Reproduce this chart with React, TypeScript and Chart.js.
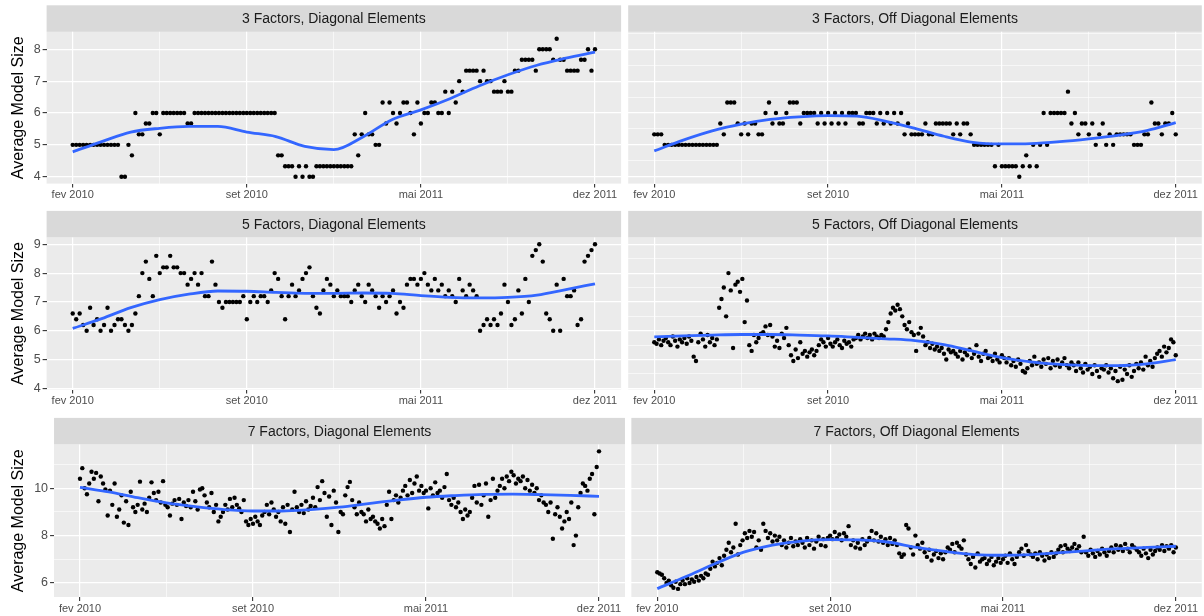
import React, { useEffect, useRef } from "react";
import { Chart, registerables } from "chart.js";

Chart.register(...registerables);

// ---------- axis data ----------
const xTickPositions = [0, 75, 150, 225, 300, 375, 450];
const xTickLabels = ["fev 2010", "", "set 2010", "", "mai 2011", "", "dez 2011"];
const xRange = [-22.5, 472.5];

const yTicksRow1 = [4, 4.5, 5, 5.5, 6, 6.5, 7, 7.5, 8, 8.5];
const yMajorRow1 = [4, 5, 6, 7, 8];
const yRangeRow1 = [3.783, 8.55];

const yTicksRow2 = [4, 4.5, 5, 5.5, 6, 6.5, 7, 7.5, 8, 8.5, 9];
const yMajorRow2 = [4, 5, 6, 7, 8, 9];
const yRangeRow2 = [3.96, 9.24];

const yTicksRow3 = [6, 7, 8, 9, 10, 11];
const yMajorRow3 = [6, 8, 10];
const yRangeRow3 = [5.407, 11.853];

// ---------- series data (observations sampled evenly over the period) ----------
const pts3Diag = [
  5, 5, 5, 5, 5, 5, 5, 5, 5, 5, 5, 5, 5, 5,
  4, 4, 5, 4.67, 6, 5.33, 5.33, 5.67, 5.67, 6, 6, 5.33, 6, 6, 6, 6, 6, 6, 6, 5.67, 5.67,
  6, 6, 6, 6, 6, 6, 6, 6, 6, 6, 6, 6, 6, 6, 6, 6, 6, 6, 6, 6, 6, 6, 6, 6,
  4.67, 4.67, 4.33, 4.33, 4.33, 4, 4.33, 4, 4.33, 4, 4, 4.33,
  4.33, 4.33, 4.33, 4.33, 4.33, 4.33, 4.33, 4.33, 4.33, 4.33,
  5.33, 4.67, 5.33, 6, 5.33, 5.33, 5, 5, 6.33, 5.67,
  6.33, 6, 5.67, 6, 6.33, 6.33, 6, 5.33, 6.33, 5.67,
  6, 6, 6.33, 6.33, 6, 6, 6.67, 6, 6.67, 6.33,
  7, 6.67, 7.33, 7.33, 7.33, 7.33, 7, 7.33, 7, 7,
  6.67, 6.67, 6.67, 7, 6.67, 6.67, 7.33, 7.33, 7.67, 7.67,
  7.67, 7.67, 7.33, 8, 8, 8, 8, 7.67, 8.33, 7.67,
  7.67, 7.33, 7.33, 7.33, 7.33, 7.67, 7.67, 8, 7.33, 8,
];

const pts3Off = [
  5.33, 5.33, 5.33,
  5, 5, 5, 5, 5, 5, 5, 5, 5, 5, 5, 5, 5, 5, 5, 5,
  5.67, 5.33, 6.33, 6.33, 6.33, 5.67, 5.33, 5.67, 5.33, 5.67,
  5.67, 5.33, 5.33, 6, 6.33, 5.67, 6, 5.67, 5.67, 6,
  6.33, 6.33, 6.33, 5.67, 6, 6, 6, 6, 5.67, 6,
  5.67, 6, 5.67, 6, 5.67, 6, 5.67, 6, 6, 6,
  5.67, 5.67, 6, 6, 6, 5.67, 6, 5.67, 6, 5.67,
  6, 5.67, 6, 5.33, 5.67, 5.33, 5.33, 5.33, 5.33, 5.67,
  5.33, 5.33, 5.67, 5.67, 5.67, 5.67, 5.67, 5.33, 5.67, 5.33,
  5.67, 5.67, 5.33, 5, 5, 5, 5, 5, 5, 4.33,
  5, 4.33, 4.33, 4.33, 4.33, 4.33, 4, 4.33, 4.67, 4.33,
  5, 4.33, 5, 6, 5, 6, 6, 6, 6, 6,
  6.67, 5.67, 6, 5.33, 5.67, 5.67, 5.33, 5.67, 5, 5.33,
  5.67, 5, 5.33, 5, 5.33, 5.33, 5.33, 5.33, 5.33, 5,
  5, 5, 5.33, 5.33, 6.33, 5.67, 5.67, 5.33, 5.67, 5.67,
  6, 5.33,
];

const pts5Diag = [
  6.6, 6.4, 6.6, 6.2, 6, 6.8, 6.2, 6.4, 6, 6.2,
  6.8, 6, 6.2, 6.4, 6.4, 6.2, 6, 6.2, 6.6, 7.2,
  8, 8.4, 7.8, 7.2, 8.6, 8, 8.2, 8.2, 8.6, 8.2,
  8.2, 8, 8, 7.6, 7.8, 8, 7.6, 8, 7.2, 7.2,
  8.4, 7.6, 7, 6.8, 7, 7, 7, 7, 7, 7.2,
  6.4, 7, 7.2, 7, 7.2, 7.2, 7, 7.4, 8, 7.8,
  7.2, 6.4, 7.2, 7.6, 7.2, 7.4, 7.8, 8, 8.2, 7.2,
  6.8, 6.6, 7.4, 7.8, 7.6, 7.2, 7.4, 7.2, 7.2, 7.2,
  7, 7.4, 7.6, 7.2, 7, 7.6, 7.4, 7.2, 6.8, 7.2,
  7, 7.2, 7.4, 6.6, 7, 6.8, 7.6, 7.8, 7.8, 7.6,
  7.8, 8, 7.6, 7.4, 7.8, 7.4, 7.6, 7.2, 7.4, 7.2,
  7, 7.8, 7.4, 7.2, 7.6, 7.4, 7.2, 6, 6.2, 6.4,
  6.2, 6.4, 6.2, 6.6, 7.6, 7, 6.2, 6.4, 7.4, 6.6,
  7.8, 7, 8.6, 8.8, 9, 8.4, 6.6, 6.4, 6, 7.6,
  6, 7.8, 7.2, 7.2, 7.4, 6.2, 6.4, 8.4, 8.6, 8.8,
  9,
];

const pts5Off = [
  5.6, 5.55, 5.7, 5.5, 5.65, 5.75, 5.6, 5.5, 5.8, 5.65, 5.45, 5.7, 5.6, 5.75, 5.55, 5.8, 5.65,
  5.1, 4.95,
  5.6, 5.9, 5.7, 5.45, 5.85, 5.6, 5.75, 5.5,
  5.7, 6.8, 7.1, 7.5, 6.5, 8.0, 7.4, 5.4, 7.6, 7.7, 7.35, 7.8, 6.3, 7.05, 5.5, 5.3,
  5.85, 5.6, 5.75, 5.9,
  5.95, 6.15, 5.85, 6.2,
  5.8, 5.45, 5.65, 5.4,
  5.9, 5.75, 6.1,
  5.5, 5.15, 4.95, 5.35,
  5.05, 5.6, 5.2, 5.3, 5.1,
  5.25, 5.35, 5.15, 5.3,
  5.5, 5.7, 5.6, 5.45, 5.75,
  5.55, 5.45, 5.6, 5.7, 5.5, 5.4, 5.65, 5.55, 5.6, 5.45, 5.7,
  5.75, 5.85, 5.7, 5.8, 5.9, 5.75, 5.85, 5.7, 5.9,
  5.8, 5.75, 5.85, 5.8,
  6.05, 6.3, 6.6,
  6.8, 6.7, 6.9, 6.75, 6.5,
  6.2, 6.05, 6.3, 5.95,
  5.85, 5.3, 5.9, 6.1, 5.8,
  5.5, 5.6, 5.4, 5.55, 5.35, 5.45,
  5.3, 5.4, 5.2, 5.0, 5.35, 5.25, 5.3,
  5.2, 5.1, 5.3, 5.0, 5.25, 5.15, 5.35, 5.05, 5.2, 5.5, 5.1, 4.95, 5.2, 5.3, 5.05,
  5.1, 4.95, 5.2, 5.0, 4.9, 5.15, 5.05,
  4.9, 5.05, 4.8, 4.95, 4.75, 5.0, 4.85, 4.6, 4.55, 4.7, 4.95, 4.8, 5.1, 4.85,
  4.9, 4.75, 5.0, 4.85, 5.05, 4.7, 4.95, 4.8, 5.0, 4.75, 4.9, 5.05, 4.8, 4.7, 4.9,
  4.8, 4.6, 4.9, 4.7, 4.55, 4.85, 4.65, 4.75, 4.5, 4.8, 4.6, 4.4, 4.7, 4.65,
  4.8, 4.55, 4.7, 4.35, 4.6, 4.25, 4.75, 4.3, 4.65, 4.5, 4.8, 4.4, 4.6, 4.85,
  4.7, 4.9, 4.65, 5.1, 4.8, 4.95, 4.75, 5.05, 5.2,
  5.3, 5.1, 5.45, 5.25, 5.4, 5.7, 5.6, 5.15,
];

const pts7Diag = [
  10.4, 10.85, 10.0, 9.75, 10.2, 10.7, 10.4, 10.65, 9.45,
  10.5, 10.2, 9.95, 8.85, 9.9, 9.3, 10.2,
  8.8, 9.1, 9.7, 8.55, 9.45,
  8.45, 9.85, 9.2, 9.0, 9.3, 10.28,
  9.1, 9.35, 9.0,
  9.6, 10.25, 9.8, 9.5,
  9.85, 9.4, 10.3, 9.3,
  9.2, 8.85, 9.35,
  9.5, 9.3, 9.55, 8.7, 9.4,
  9.25, 9.5, 9.2, 9.85, 9.45, 9.1,
  9.95, 10.0, 9.7, 9.4,
  9.2, 9.8, 9.0, 9.3,
  8.6, 8.8, 9.0,
  9.3, 9.1, 9.55, 9.2,
  9.6, 9.3, 9.15, 9.0, 9.5,
  8.6, 8.45, 8.7, 8.5,
  8.8, 8.6, 8.45, 8.85, 9.0,
  9.3, 8.9, 9.4, 9.1, 8.8,
  9.0, 8.6, 9.2, 8.5, 9.3,
  8.15, 9.1, 9.85, 9.2,
  9.0, 9.3, 8.95, 9.45, 9.1, 9.25,
  9.6, 9.2, 10.05, 9.5, 10.3,
  9.8, 8.8, 9.65, 8.45, 9.9,
  9.4, 8.15, 9.0, 8.9, 9.7,
  10.05, 10.27, 9.5,
  9.2, 8.9, 9.4, 9.0,
  8.9, 8.6, 9.1, 8.7, 8.8, 8.6,
  8.5, 8.3, 8.7, 8.4,
  9.3, 9.85, 8.7,
  9.5, 9.7, 9.4, 9.6,
  9.9, 10.1, 9.7, 10.35, 9.8,
  10.2, 10.5, 9.9, 10.1, 9.8,
  9.9, 9.15, 10.0, 9.7, 10.25, 9.8,
  9.9, 9.6, 10.05, 10.6,
  9.5, 9.3, 9.6, 9.2, 9.4,
  9.0, 8.7, 9.1, 8.85, 9.0,
  9.6, 10.1, 9.4, 10.15, 9.3,
  9.7, 10.2, 8.8, 9.5,
  10.4, 9.6, 9.9,
  10.1, 10.4, 10.0, 10.5, 10.3, 10.7, 10.55, 10.2, 10.4,
  10.3, 10.5, 10.0, 10.35, 9.9, 10.15,
  9.8, 10.0, 9.5, 9.7, 9.4,
  9.3, 9.0, 9.4, 7.87, 8.9, 9.2,
  8.8, 8.3, 8.6,
  9.0, 8.7, 9.4, 7.6, 8.0, 9.2,
  9.8, 10.2, 10.1, 9.9,
  10.4, 10.6, 8.9,
  10.9, 11.56,
];

const pts7Off = [
  6.45, 6.4, 6.35,
  6.2, 6.0, 6.1,
  5.9, 5.8, 6.05, 5.75, 5.95,
  6.1, 5.95, 6.2, 6.0, 6.15, 6.05, 6.25, 6.1,
  6.3, 6.2, 6.4, 6.35,
  6.6, 6.9, 6.7,
  6.85, 7.05, 6.75, 7.15,
  7.4, 7.7, 7.3,
  7.5, 8.5, 7.2, 7.6,
  7.8, 8.1, 7.9, 8.2, 7.95, 8.15,
  7.5, 7.8, 7.4, 8.5,
  8.2, 7.9, 8.1, 7.75, 8.0, 7.8, 7.95,
  7.6, 7.8, 7.5, 7.7, 7.9, 7.55, 7.75, 7.6, 7.85,
  7.7, 7.5, 7.9, 7.6, 7.8, 7.45, 7.75, 7.95, 7.6, 7.85, 7.55,
  7.9, 8.0, 7.85, 8.15, 7.9, 8.05, 7.8, 8.1, 7.95,
  8.4, 7.6, 7.8, 7.5, 7.7, 7.45, 7.85, 7.6, 7.75,
  7.9, 8.2, 7.8, 8.1, 7.75, 7.95,
  7.7, 7.85, 7.6, 7.9, 7.65, 7.8, 7.6,
  7.25, 7.1, 7.2,
  8.45, 8.3, 7.5, 7.2,
  8.0, 7.6, 7.45, 7.7,
  7.3, 7.1, 7.4, 6.95, 7.2, 7.35, 7.05, 7.25, 7.0, 7.3,
  7.5, 7.4, 7.65, 7.3, 7.7, 7.55, 7.45, 7.8,
  7.2, 7.0, 6.8, 7.1, 6.65, 7.25, 6.9, 7.0,
  7.05, 6.8, 6.95, 7.1, 6.75, 6.9, 7.05, 6.85, 7.0,
  7.15, 6.85, 7.25, 7.0, 6.8, 7.1,
  7.3, 7.45, 7.15, 7.6, 7.35, 7.2,
  7.1, 7.25, 7.0, 7.3, 7.15, 6.95, 7.2, 7.05, 7.3, 7.1, 7.25,
  7.4, 7.55, 7.3, 7.6, 7.45, 7.35, 7.5, 7.65, 7.4, 7.55, 7.3, 7.95,
  7.3, 7.15, 7.4, 7.25, 7.1, 7.35, 7.2, 7.45, 7.3, 7.15, 7.35,
  7.5, 7.3, 7.6, 7.4, 7.55, 7.35, 7.65, 7.45, 7.3, 7.6, 7.5, 7.4,
  7.3, 7.15, 7.45, 7.25, 7.05, 7.4, 7.2, 7.35,
  7.5, 7.4, 7.6, 7.35, 7.55, 7.45, 7.6, 7.3, 7.5,
];

// loess smooth, read at every 25th observation
const smooth3Diag = [4.78, 5.1, 5.4, 5.52, 5.58, 5.58, 5.4, 5.26, 4.95, 4.85, 5.25, 5.79, 6.1, 6.45, 6.85, 7.2, 7.5, 7.72, 7.91];
const smooth3Off = [4.81, 5.15, 5.44, 5.65, 5.8, 5.88, 5.92, 5.9, 5.74, 5.52, 5.27, 5.08, 5.03, 5.04, 5.1, 5.19, 5.3, 5.45, 5.7];
const smooth5Diag = [6.08, 6.42, 6.8, 7.08, 7.27, 7.38, 7.37, 7.33, 7.3, 7.3, 7.31, 7.3, 7.22, 7.16, 7.14, 7.16, 7.24, 7.43, 7.63];
const smooth5Off = [5.79, 5.82, 5.85, 5.87, 5.87, 5.85, 5.82, 5.77, 5.72, 5.66, 5.52, 5.29, 5.07, 4.92, 4.83, 4.79, 4.79, 4.85, 5.0];
const smooth7Diag = [10.04, 9.85, 9.6, 9.38, 9.22, 9.1, 9.04, 9.04, 9.1, 9.2, 9.35, 9.5, 9.62, 9.69, 9.74, 9.75, 9.73, 9.7, 9.66];
const smooth7Off = [5.76, 6.27, 6.81, 7.3, 7.6, 7.77, 7.83, 7.82, 7.73, 7.5, 7.33, 7.2, 7.17, 7.2, 7.28, 7.37, 7.45, 7.5, 7.55];

const FONT = '"Liberation Sans", Arial, Helvetica, sans-serif';
const W = 1204;
const H = 616;

type PanelDef = {
  title: string;
  pts: number[];
  smooth: number[];
  yTicks: number[];
  yMajor: number[];
  yRange: number[];
  left: boolean;
  area: { l: number; r: number; t: number; b: number };
};

const STRIP_H = 26.5;
const X_AXIS_H = 24;

const panels: PanelDef[] = [
  { title: "3 Factors, Diagonal Elements", pts: pts3Diag, smooth: smooth3Diag, yTicks: yTicksRow1, yMajor: yMajorRow1, yRange: yRangeRow1, left: true, area: { l: 46.6, r: 621.1, t: 31.8, b: 183.6 } },
  { title: "3 Factors, Off Diagonal Elements", pts: pts3Off, smooth: smooth3Off, yTicks: yTicksRow1, yMajor: yMajorRow1, yRange: yRangeRow1, left: false, area: { l: 628.2, r: 1202.7, t: 31.8, b: 183.6 } },
  { title: "5 Factors, Diagonal Elements", pts: pts5Diag, smooth: smooth5Diag, yTicks: yTicksRow2, yMajor: yMajorRow2, yRange: yRangeRow2, left: true, area: { l: 46.6, r: 621.1, t: 237.4, b: 389.5 } },
  { title: "5 Factors, Off Diagonal Elements", pts: pts5Off, smooth: smooth5Off, yTicks: yTicksRow2, yMajor: yMajorRow2, yRange: yRangeRow2, left: false, area: { l: 628.2, r: 1202.7, t: 237.4, b: 389.5 } },
  { title: "7 Factors, Diagonal Elements", pts: pts7Diag, smooth: smooth7Diag, yTicks: yTicksRow3, yMajor: yMajorRow3, yRange: yRangeRow3, left: true, area: { l: 54.05, r: 624.95, t: 444.4, b: 597.0 } },
  { title: "7 Factors, Off Diagonal Elements", pts: pts7Off, smooth: smooth7Off, yTicks: yTicksRow3, yMajor: yMajorRow3, yRange: yRangeRow3, left: false, area: { l: 631.35, r: 1203.25, t: 444.4, b: 597.0 } },
];

const toXY = (vals: number[]) =>
  vals.map((v, i) => ({ x: (i * (xTickPositions[xTickPositions.length - 1] - xTickPositions[0])) / (vals.length - 1), y: v }));

const decorPlugin = {
  id: "decor",
  beforeDraw(chart: any, _args: any, opts: any) {
    const { ctx, chartArea: a } = chart;
    ctx.save();
    ctx.fillStyle = "#EBEBEB";
    ctx.fillRect(a.left, a.top, a.right - a.left, a.bottom - a.top);
    ctx.fillStyle = "#D9D9D9";
    ctx.fillRect(a.left, a.top - STRIP_H, a.right - a.left, STRIP_H);
    ctx.fillStyle = "#1A1A1A";
    ctx.font = `14px ${FONT}`;
    ctx.textAlign = "center";
    ctx.textBaseline = "middle";
    ctx.fillText(opts.title, (a.left + a.right) / 2, a.top - STRIP_H / 2 + 0.5);
    if (opts.yTitle) {
      ctx.translate(18.5, (a.top + a.bottom) / 2);
      ctx.rotate(-Math.PI / 2);
      ctx.fillStyle = "#000000";
      ctx.font = `16px ${FONT}`;
      ctx.fillText(opts.yTitle, 0, 0);
    }
    ctx.restore();
  },
};

function Panel({ def }: { def: PanelDef }) {
  const ref = useRef<HTMLCanvasElement | null>(null);
  useEffect(() => {
    if (!ref.current) return;
    const a = def.area;
    const yW = def.left ? a.l : 0;
    const chart = new Chart(ref.current, {
      type: "line",
      data: {
        datasets: [
          {
            data: toXY(def.smooth),
            borderColor: "#3366FF",
            borderWidth: 2.8,
            pointRadius: 0,
            fill: false,
            cubicInterpolationMode: "monotone",
          } as any,
          {
            data: toXY(def.pts),
            showLine: false,
            pointRadius: 2.2,
            pointBackgroundColor: "#000000",
            pointBorderWidth: 0,
            pointHoverRadius: 2.2,
          } as any,
        ],
      },
      options: {
        animation: false,
        responsive: false,
        devicePixelRatio: 1,
        events: [],
        layout: {
          padding: {
            left: def.left ? 0 : a.l,
            right: W - a.r,
            top: a.t,
            bottom: H - a.b - X_AXIS_H,
          },
        },
        plugins: {
          legend: { display: false },
          tooltip: { enabled: false },
          title: { display: false },
          decor: { title: def.title, yTitle: def.left ? "Average Model Size" : null },
        } as any,
        scales: {
          x: {
            type: "linear",
            min: xRange[0],
            max: xRange[1],
            afterBuildTicks: (s: any) => {
              s.ticks = xTickPositions.map((v) => ({ value: v }));
            },
            afterFit: (s: any) => {
              s.height = X_AXIS_H;
            },
            border: { display: false },
            grid: {
              color: "#FFFFFF",
              lineWidth: (c: any) => (xTickLabels[xTickPositions.indexOf(c.tick?.value)] ? 1.2 : 0.6),
              tickColor: (c: any) => (xTickLabels[xTickPositions.indexOf(c.tick?.value)] ? "#333333" : "rgba(0,0,0,0)"),
              tickLength: 4,
              tickWidth: 1.1,
            },
            ticks: {
              autoSkip: false,
              maxRotation: 0,
              minRotation: 0,
              padding: 1,
              color: "#4D4D4D",
              font: { family: FONT, size: 11 },
              callback: (_v: any, i: number) => xTickLabels[i],
            },
          },
          y: {
            type: "linear",
            min: def.yRange[0],
            max: def.yRange[1],
            afterBuildTicks: (s: any) => {
              s.ticks = def.yTicks.map((v) => ({ value: v }));
            },
            afterFit: (s: any) => {
              s.width = yW;
            },
            border: { display: false },
            grid: {
              color: "#FFFFFF",
              lineWidth: (c: any) => (def.yMajor.includes(c.tick?.value) ? 1.2 : 0.6),
              tickColor: (c: any) => (def.yMajor.includes(c.tick?.value) ? "#333333" : "rgba(0,0,0,0)"),
              drawTicks: def.left,
              tickLength: 4,
              tickWidth: 1.1,
            },
            ticks: {
              display: def.left,
              padding: 2,
              color: "#4D4D4D",
              font: { family: FONT, size: 12.5 },
              callback: (v: any) => (def.yMajor.includes(v) ? String(v) : ""),
            },
          },
        },
      } as any,
      plugins: [decorPlugin as any],
    });
    return () => chart.destroy();
  }, [def]);
  return <canvas ref={ref} width={W} height={H} style={{ position: "absolute", left: 0, top: 0, width: W, height: H }} />;
}

export default function App() {
  return (
    <div style={{ position: "absolute", left: 0, top: 0, width: W, height: H, background: "#FFFFFF", overflow: "hidden" }}>
      {panels.map((p, i) => (
        <Panel key={i} def={p} />
      ))}
    </div>
  );
}
